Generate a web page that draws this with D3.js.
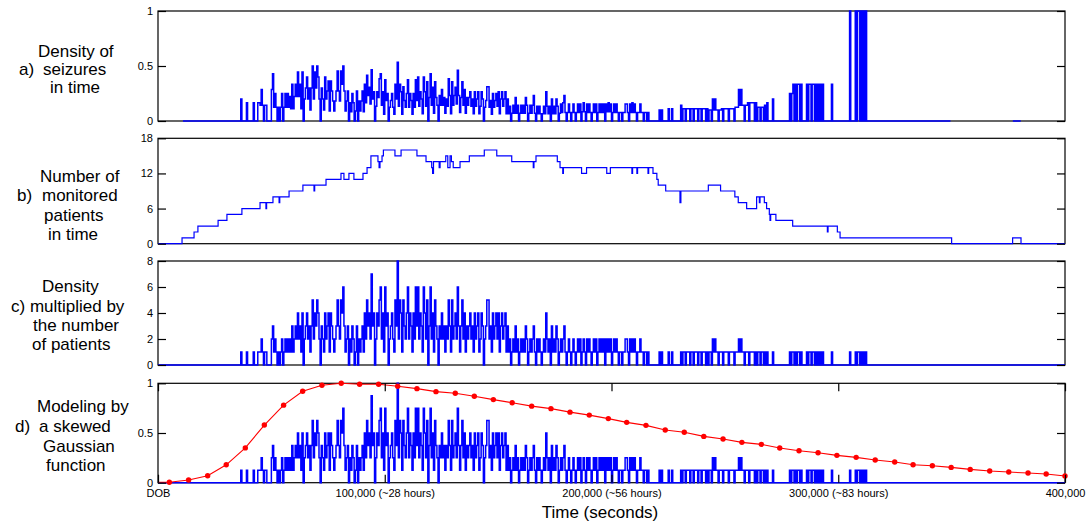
<!DOCTYPE html>
<html><head><meta charset="utf-8">
<script src="https://cdn.jsdelivr.net/npm/d3@7"></script>
<style>
body{margin:0;background:#fff}
text{font-family:"Liberation Sans",Arial,Helvetica,sans-serif;fill:#000}
</style>
</head><body>
<svg id="chart" width="1090" height="525"></svg>
<script>
// ---------------- DATA ----------------
// seizure counts (density x patients), one value per 500 s, starting at t = 36000 s
const countStart = 36000;
const countStep = 500;
const seizureCounts = [
  0,1,0,0,0,0,1,0,0,0,0,0,1,0,0,0,1,1,1,2,1,0,1,1,0,0,0,0,
  2,3,1,2,1,0,1,0,1,2,0,1,2,1,2,1,2,1,3,1,2,3,2,4,2,3,1,4,
  0,2,3,4,2,3,1,3,5,2,4,3,5,4,2,0,3,2,1,
  4,2,3,4,1,4,3,2,1,2,3,
  5,3,2,5,4,6,
  3,1,2,3,0,2,1,3,2,0,1,3,0,2,1,2,3,1,
  4,2,5,3,4,2,7,3,4,0,2,
  4,3,5,6,2,4,1,6,3,4,
  0,2,3,4,2,1,5,3,8,2,5,4,1,5,3,2,4,6,
  2,4,3,1,4,2,6,3,6,2,4,3,1,6,4,2,5,0,3,6,2,4,1,5,3,2,0,3,2,4,
  2,3,1,3,2,5,3,1,5,2,3,4,2,6,3,1,3,5,2,4,1,3,2,3,
  4,2,3,1,4,2,3,4,1,2,4,3,0,2,3,5,5,2,3,1,
  4,2,3,4,2,4,1,3,4,2,3,4,1,3,
  1,2,0,1,2,1,3,1,2,0, 1,2,1,2,1,3,2,0,1,2, 1,2,3,1,0,2,1,2,1,0, 1,2,1,4,2,1,2,0,3,1,
  2,1,3,2,0,1,2,1,2,3, 1,0,1,2,1,0,1,2,1,0, 1,2,1,2,0,1,2,1,0,2, 1,2,1,0,1,2,1,2,0,1,
  2,1,2,1,2,0,2,1,2,1, 2,0,1,2,1,2,1,0,1,
  1,0,1,1,2,2,1,0,2,1,2,1,2,1,0,1,1,2,1,1,0,1,1,0,1,
  0,0,0,0,0,0,0,0,0,1,0,1,0,0,0,0,0,1,0,0,1,0,0,0,0,0,0,0,
  1,0,1,1,0,1,1,1,0,1, 1,0,1,1,1,0,1,1,0,1, 1,1,0,1,0,1,1,0,2,1, 2,1,1,0,1,1,1,0,1,1,
  1,1,0,1,1,1,1,0,1,1, 1,2,1,2,1,1,0,1,1,1, 0,1,1,1,1,0,1,0,1,1, 0,1,1,0,1,0,1,
  0,0,0,0,1,0,0,0,0,0,0,0,0,0,0,0,0,0,0,
  1,0,1,1,0,1,0,1,1,0,1,
  0,0,0,0,
  1,0,1,1,0,1,1,0,1,0,1,0,1,0,1,
  0,0,0,0,0,0,0,
  1,
  0,0,0,0,0,0,0,0,0,0,0,0,0,0,0,
  1,
  0,0,0,0,
  1,0,1,1,0,1,0,1,0,1,
  0
];

// number of monitored patients: step changes (time in s -> count)
const patientTimes = [0,10600,15900,17600,26500,30400,37000,45000,47600,47900,50700,53400,53700,57800,
  63900,68800,69100,74100,80700,82000,84200,86400,90400,92200,93900,97000,97500,97900,98800,99400,
  104500,107200,114200,118200,120700,121100,121500,124000,124400,126900,127800,128800,129400,130200,
  133200,137300,143900,149400,156000,165500,165800,166700,176100,177300,178500,178800,186800,189000,
  197900,199500,209000,209300,211200,211500,216100,216400,218300,220000,220600,223900,230200,230600,
  242700,248100,254400,255900,259600,264000,265200,265500,267400,268400,269600,269900,270200,272500,
  279900,295200,295500,299600,300800,350000,376900,380600];
const patientCounts = [0,1,2,3,4,5,6,7,6,7,8,7,8,9,
  10,9,10,11,12,11,12,11,12,13,15,14,13,14,15,16,
  15,16,15,14,13,12,14,13,14,15,13,15,14,13,
  14,15,16,15,14,13,14,15,14,13,12,13,12,13,
  12,13,12,13,12,13,12,13,12,11,10,9,7,9,
  10,9,8,7,6,8,7,8,7,6,5,4,5,4,
  3,2,3,2,1,0,1,0];

// skewed Gaussian model (time in s -> normalised value)
const modelTimes = [0,5000,13500,21900,30100,38500,46900,55400,63800,72300,80800,88900,97300,105700,
  114200,122600,131100,139500,147900,156200,164800,173300,181700,190200,198600,206700,215200,223700,
  232100,240700,249200,257500,266100,274200,282700,291100,299400,307900,316300,324900,333000,341500,
  349800,358200,366800,375200,383700,391700,400000];
const modelValues = [0.004,0.004,0.027,0.07,0.18,0.35,0.58,0.78,0.92,0.98,1.0,0.99,0.99,0.97,
  0.946,0.916,0.9,0.87,0.836,0.805,0.77,0.745,0.71,0.68,0.645,0.607,0.577,0.53,
  0.507,0.466,0.44,0.406,0.386,0.349,0.322,0.302,0.275,0.255,0.228,0.208,0.181,0.171,
  0.154,0.134,0.117,0.107,0.097,0.087,0.067];

const yTicksA = [0, 0.5, 1];
const yTicksB = [0, 6, 12, 18];
const yTicksC = [0, 2, 4, 6, 8];
const yTicksD = [0, 0.5, 1];
const xTicks = [0, 100000, 200000, 300000, 400000];
const xTickLabels = ["DOB", "100,000 (~28 hours)", "200,000 (~56 hours)", "300,000 (~83 hours)", "400,000"];
const xTitle = "Time (seconds)";

const panelLabels = [
  [{t:"Density of",x:38,y:57},{t:"a)",x:19,y:75},{t:"seizures",x:43,y:75},{t:"in time",x:50,y:93}],
  [{t:"Number of",x:40,y:181.5},{t:"b)",x:17,y:201},{t:"monitored",x:42,y:201},{t:"patients",x:44,y:220.5},{t:"in time",x:48,y:240}],
  [{t:"Density",x:42,y:292},{t:"c) multiplied by",x:11,y:311.5},{t:"the number",x:33,y:331},{t:"of patients",x:32,y:350}],
  [{t:"Modeling by",x:37,y:412},{t:"d)",x:15,y:432},{t:"a skewed",x:39,y:432},{t:"Gaussian",x:43,y:451.5},{t:"function",x:46,y:470.5}]
];

// ---------------- DRAW ----------------
const svg = d3.select("#chart");
const BLUE = "#0000ff", RED = "#ff0000";
const x = d3.scaleLinear().domain([0, 400000]).range([158, 1065]);

const panels = [
  {top:11, bottom:121, max:1, ticks:yTicksA},
  {top:138.3, bottom:243.7, max:18, ticks:yTicksB},
  {top:261, bottom:365, max:8, ticks:yTicksC},
  {top:383.3, bottom:482.7, max:1, ticks:yTicksD}
];
panels.forEach(p => { p.y = d3.scaleLinear().domain([0, p.max]).range([p.bottom, p.top]); });

const sampleTimes = d3.range(0, 400000 + countStep, countStep);
function countAt(t) {
  const k = Math.round((t - countStart) / countStep);
  return (k >= 0 && k < seizureCounts.length) ? seizureCounts[k] : 0;
}
function patientsAt(t) {
  const k = d3.bisectRight(patientTimes, t) - 1;
  return patientCounts[Math.max(0, k)];
}
const maxCount = d3.max(seizureCounts);

// frames
panels.forEach(p => {
  svg.append("rect").attr("x", 158).attr("y", p.top)
    .attr("width", 1065 - 158).attr("height", p.bottom - p.top)
    .attr("fill", "none").attr("stroke", "#000").attr("stroke-width", 1.2);
});

// series
const seriesA = sampleTimes.map(t => { const b = patientsAt(t); return {t, v: b > 0 ? countAt(t) / b : null}; });
const seriesB = patientTimes.map((t, i) => ({t, v: patientCounts[i]})).concat([{t:400000, v: patientCounts[patientCounts.length-1]}]);
const seriesC = sampleTimes.map(t => ({t, v: countAt(t)}));
const seriesD = sampleTimes.map(t => ({t, v: countAt(t) / maxCount}));

function stepLine(p) {
  return d3.line().defined(d => d.v !== null).x(d => x(d.t)).y(d => p.y(d.v)).curve(d3.curveStepAfter);
}
[[seriesA,0,1.5],[seriesB,1,1.2],[seriesC,2,1.5],[seriesD,3,1.5]].forEach(([s, i, w]) => {
  svg.append("path").datum(s).attr("d", stepLine(panels[i]))
    .attr("fill", "none").attr("stroke", BLUE).attr("stroke-width", w);
});

// model curve
const pd = panels[3];
const model = modelTimes.map((t, i) => ({t, v: modelValues[i]}));
svg.append("path").datum(model)
  .attr("d", d3.line().x(d => x(d.t)).y(d => pd.y(d.v)))
  .attr("fill", "none").attr("stroke", RED).attr("stroke-width", 1.1);
svg.append("g").selectAll("circle").data(model.slice(1)).join("circle")
  .attr("cx", d => x(d.t)).attr("cy", d => pd.y(d.v)).attr("r", 2.7).attr("fill", RED);

// y axes
function styleAxis(g) {
  g.select(".domain").remove();
  g.selectAll(".tick line").attr("stroke", "#000").attr("stroke-width", 1.2);
  g.selectAll(".tick text").attr("font-size", 11).attr("font-family", '"Liberation Sans",Arial,sans-serif').attr("fill", "#000");
}
panels.forEach(p => {
  svg.append("g").attr("transform", "translate(158,0)")
    .call(d3.axisLeft(p.y).tickValues(p.ticks).tickSize(-8).tickPadding(5).tickFormat(d => d))
    .call(styleAxis);
  svg.append("g").attr("transform", "translate(1065,0)")
    .call(d3.axisRight(p.y).tickValues(p.ticks).tickSize(-8).tickFormat(""))
    .call(styleAxis);
});

// x axis (panel d)
svg.append("g").attr("transform", `translate(0,${pd.bottom})`)
  .call(d3.axisBottom(x).tickValues(xTicks).tickSize(-8).tickPadding(6.5).tickFormat((d, i) => xTickLabels[i]))
  .call(styleAxis);
svg.append("g").attr("transform", `translate(0,${pd.top})`)
  .call(d3.axisTop(x).tickValues(xTicks).tickSize(-8).tickFormat(""))
  .call(styleAxis);

svg.append("text").attr("x", 600).attr("y", 518).attr("text-anchor", "middle")
  .attr("font-size", 17).text(xTitle);

// panel labels
panelLabels.forEach(lines => {
  lines.forEach(l => {
    svg.append("text").attr("x", l.x).attr("y", l.y).attr("font-size", 17).text(l.t);
  });
});
</script>
</body></html>
